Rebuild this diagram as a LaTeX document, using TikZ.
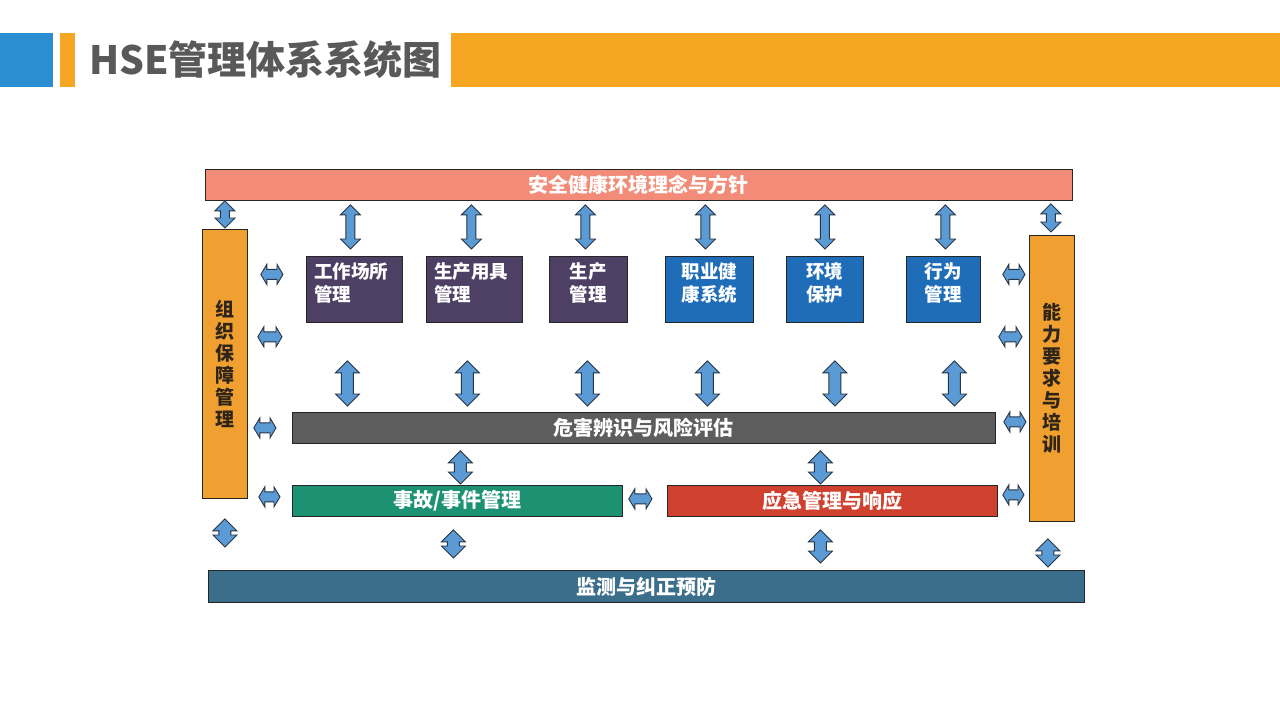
\documentclass[tikz,border=0pt]{standalone}
\usepackage{fontspec}
\setmainfont{Noto Sans CJK SC}
\usetikzlibrary{calc}
\definecolor{hblue}{HTML}{2B8ED2}
\definecolor{horange}{HTML}{F6A623}
\definecolor{titlegray}{HTML}{595959}
\definecolor{topfill}{HTML}{F28B77}
\definecolor{colfill}{HTML}{F0A030}
\definecolor{purp}{HTML}{4E3F65}
\definecolor{bbox}{HTML}{1F6DB8}
\definecolor{grayfill}{HTML}{5D5D5D}
\definecolor{greenfill}{HTML}{1D9273}
\definecolor{redfill}{HTML}{D0402F}
\definecolor{botfill}{HTML}{3A6E8B}
\definecolor{arrfill}{HTML}{5B9BD5}
\definecolor{arrline}{HTML}{2A3444}
\definecolor{boxline}{HTML}{262626}
\definecolor{coltext}{HTML}{2E2418}
\tikzset{
  bx/.style={draw=boxline, line width=0.8pt, inner sep=0pt, anchor=north west},
  bartxt/.style={text=white, font=\bfseries\fontsize{20}{22}\selectfont},
  boxtxt/.style={text=white, font=\bfseries\fontsize{18.5}{23}\selectfont, inner sep=0pt, yshift=6pt},
  coltxt/.style={text=coltext, font=\bfseries\fontsize{19}{22}\selectfont, align=center},
  adims/.code args={#1/#2/#3}{\def\ahl{#1}\def\ahw{#2}\def\asw{#3}},
  dblarrow/.style={draw=arrline, fill=arrfill, line width=0.9pt, line join=miter,
    to path={
      -- ($(\tikztostart)!\ahl!(\tikztotarget)!\ahw!90:(\tikztotarget)$)
      -- ($(\tikztostart)!\ahl!(\tikztotarget)!\asw!90:(\tikztotarget)$)
      -- ($(\tikztotarget)!\ahl!(\tikztostart)!\asw!-90:(\tikztostart)$)
      -- ($(\tikztotarget)!\ahl!(\tikztostart)!\ahw!-90:(\tikztostart)$)
      -- (\tikztotarget)
      -- ($(\tikztotarget)!\ahl!(\tikztostart)!\ahw!90:(\tikztostart)$)
      -- ($(\tikztotarget)!\ahl!(\tikztostart)!\asw!90:(\tikztostart)$)
      -- ($(\tikztostart)!\ahl!(\tikztotarget)!\asw!-90:(\tikztotarget)$)
      -- ($(\tikztostart)!\ahl!(\tikztotarget)!\ahw!-90:(\tikztotarget)$)
      -- cycle}},
  arrA/.style={dblarrow, adims=10pt/10pt/4.5pt},
  arrB/.style={dblarrow, adims=12pt/12pt/6pt},
  arrC/.style={dblarrow, adims=6pt/10pt/5pt}
}
\begin{document}
\begin{tikzpicture}[x=1pt,y=-1pt]
\useasboundingbox (0,0) rectangle (1280,720);
\fill[white] (0,0) rectangle (1280,720);
% header
\fill[hblue] (0,33) rectangle (53,87);
\fill[horange] (60,33) rectangle (75,87);
\fill[horange] (451,33) rectangle (1280,87);
\node[anchor=west, inner sep=0pt, text=titlegray, font=\bfseries\fontsize{39}{40}\selectfont] (title) at (89,60) {HSE管理体系系统图};
% bars
\node[bx, fill=topfill, minimum width=867, minimum height=31, bartxt] (top) at (205,169) {安全健康环境理念与方针};
\node[bx, fill=colfill, minimum width=45, minimum height=269] (lcol) at (202,229) {};
\node[coltxt] at (lcol.center) {组\\织\\保\\障\\管\\理};
\node[bx, fill=colfill, minimum width=45, minimum height=286] (rcol) at (1029,235) {};
\node[coltxt] at (rcol.center) {能\\力\\要\\求\\与\\培\\训};
\node[bx, fill=purp, minimum width=96, minimum height=66, label={[boxtxt, align=left, xshift=-3pt]center:{工作场所\\管理}}] (w1) at (306,256) {};
\node[bx, fill=purp, minimum width=96, minimum height=66, label={[boxtxt, align=left, xshift=-3pt]center:{生产用具\\管理}}] (w2) at (426,256) {};
\node[bx, fill=purp, minimum width=78, minimum height=66, label={[boxtxt, align=center]center:{生产\\管理}}] (w3) at (549,256) {};
\node[bx, fill=bbox, minimum width=88, minimum height=66, label={[boxtxt, align=center]center:{职业健\\康系统}}] (w4) at (665,256) {};
\node[bx, fill=bbox, minimum width=77, minimum height=66, label={[boxtxt, align=center]center:{环境\\保护}}] (w5) at (786,256) {};
\node[bx, fill=bbox, minimum width=74, minimum height=66, label={[boxtxt, align=center]center:{行为\\管理}}] (w6) at (906,256) {};
\node[bx, fill=grayfill, minimum width=703, minimum height=31, bartxt] (gray) at (292,412) {危害辨识与风险评估};
\node[bx, fill=greenfill, minimum width=330, minimum height=31, bartxt] (green) at (292,485) {事故/事件管理};
\node[bx, fill=redfill, minimum width=330, minimum height=31, bartxt] (red) at (667,485) {应急管理与响应};
\node[bx, fill=botfill, minimum width=876, minimum height=32, bartxt] (bottom) at (208,570) {监测与纠正预防};
% top arrows
\draw[arrA] ($(lcol.north |- top.south)+(0,0)$) to ($(lcol.north)+(0,-1)$);
\draw[arrA] ($(w1.north |- top.south)+(-4,4)$) to ($(w1.north)+(-4,-7)$);
\draw[arrA] ($(w2.north |- top.south)+(-3,4)$) to ($(w2.north)+(-3,-7)$);
\draw[arrA] ($(w3.north |- top.south)+(-3,4)$) to ($(w3.north)+(-3,-7)$);
\draw[arrA] ($(w4.north |- top.south)+(-4,4)$) to ($(w4.north)+(-4,-7)$);
\draw[arrA] ($(w5.north |- top.south)+(0,4)$) to ($(w5.north)+(0,-7)$);
\draw[arrA] ($(w6.north |- top.south)+(2,4)$) to ($(w6.north)+(2,-7)$);
\draw[arrA] ($(rcol.north |- top.south)+(-1,3)$) to ($(rcol.north)+(-1,-3)$);
% middle arrows
\draw[arrB] ($(w1.south)+(-7,38)$) to ($(w1.south |- gray.north)+(-7,-6)$);
\draw[arrB] ($(w2.south)+(-7,38)$) to ($(w2.south |- gray.north)+(-7,-6)$);
\draw[arrB] ($(w3.south)+(-1,38)$) to ($(w3.south |- gray.north)+(-1,-6)$);
\draw[arrB] ($(w4.south)+(-2,38)$) to ($(w4.south |- gray.north)+(-2,-6)$);
\draw[arrB] ($(w5.south)+(10,38)$) to ($(w5.south |- gray.north)+(10,-6)$);
\draw[arrB] ($(w6.south)+(11,38)$) to ($(w6.south |- gray.north)+(11,-6)$);
\draw[arrB] ($(green.north |- gray.south)+(3,7)$) to ($(green.north)+(3,-1)$);
\draw[arrB] ($(red.north |- gray.south)+(-12,7)$) to ($(red.north)+(-12,-1)$);
% bottom arrows
\draw[arrB] ($(green.south)+(-4,13)$) to ($(green.south |- bottom.north)+(-4,-12)$);
\draw[arrB] ($(red.south)+(-12,13)$) to ($(red.south |- bottom.north)+(-12,-7)$);
\draw[arrB] ($(lcol.south)+(0,20)$) to ($(lcol.south |- bottom.north)+(0,-23)$);
\draw[arrB] ($(rcol.south)+(-4,17)$) to ($(rcol.south |- bottom.north)+(-4,-3)$);
% horizontal arrows
\draw[arrC] ($(lcol.east |- w1.west)+(13,-15)$) to ($(w1.west)+(-23,-15)$);
\draw[arrC] ($(lcol.east |- w1.south)+(10,14)$) to ($(w1.south west)+(-24,14)$);
\draw[arrC] ($(lcol.east |- gray.west)+(6,0)$) to ($(gray.west)+(-16,0)$);
\draw[arrC] ($(lcol.east |- green.west)+(11,-4)$) to ($(green.west)+(-12,-4)$);
\draw[arrC] ($(w6.east)+(22,-15)$) to ($(rcol.west |- w6.east)+(-4,-15)$);
\draw[arrC] ($(w6.south east)+(18,14)$) to ($(rcol.west |- w6.south)+(-7,14)$);
\draw[arrC] ($(gray.east)+(8,-6)$) to ($(rcol.west |- gray.east)+(-3,-6)$);
\draw[arrC] ($(red.east)+(5,-6)$) to ($(rcol.west |- red.east)+(-5,-6)$);
\draw[arrC] ($(green.east)+(6,-2)$) to ($(red.west)+(-15,-2)$);
\end{tikzpicture}
\end{document}
